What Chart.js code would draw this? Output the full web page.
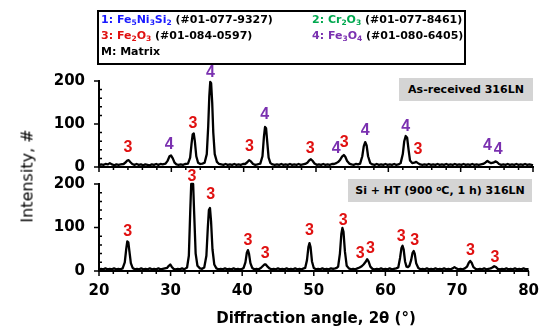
<!DOCTYPE html>
<html><head><meta charset="utf-8">
<script src="https://cdn.jsdelivr.net/npm/chart.js@4.4.1/dist/chart.umd.min.js"></script>
<style>
body{margin:0;background:#fff;}
#wrap{position:relative;width:550px;height:336px;overflow:hidden;font-family:'DejaVu Sans';color:#000;}
canvas{position:absolute;left:0;top:0;}
.legend{position:absolute;left:97px;top:10px;width:369px;height:55px;box-sizing:border-box;border:2px solid #000;font-weight:bold;font-size:11px;}
.legend div{position:absolute;white-space:nowrap;line-height:14px;}
.legend sub{font-size:7.5px;vertical-align:-2px;line-height:0;}
.c1{color:#1a1aff}.c2{color:#00a84f}.c3{color:#e01010}.c4{color:#7a30b0}
.panel{position:absolute;background:#d4d4d4;font-weight:bold;font-size:11px;text-align:center;white-space:nowrap;}
.panel sup{font-size:7.5px;vertical-align:3px;line-height:0;}
#ytitle{position:absolute;left:27px;top:176px;transform:translate(-50%,-50%) rotate(-90deg);font-size:16px;white-space:nowrap;}
#xtitle{position:absolute;left:316px;top:318px;transform:translate(-50%,-50%);font-size:15px;font-weight:bold;white-space:nowrap;}
</style></head>
<body>
<div id="wrap">
<canvas id="top" width="550" height="336"></canvas>
<canvas id="bot" width="550" height="336"></canvas>
<div class="legend">
 <div style="left:2px;top:1px"><span class="c1">1: Fe<sub>5</sub>Ni<sub>3</sub>Si<sub>2</sub></span> (#01-077-9327)</div>
 <div style="left:213px;top:1px"><span class="c2">2: Cr<sub>2</sub>O<sub>3</sub></span> (#01-077-8461)</div>
 <div style="left:2px;top:17px"><span class="c3">3: Fe<sub>2</sub>O<sub>3</sub></span> (#01-084-0597)</div>
 <div style="left:213px;top:17px"><span class="c4">4: Fe<sub>3</sub>O<sub>4</sub></span> (#01-080-6405)</div>
 <div style="left:2px;top:33px">M: Matrix</div>
</div>
<div class="panel" style="left:399px;top:78px;width:134px;height:23px;line-height:23px;">As-received 316LN</div>
<div class="panel" style="left:348px;top:179px;width:184px;height:23px;line-height:23px;">Si + HT (900 <sup>o</sup>C, 1 h) 316LN</div>
<div id="ytitle">Intensity, #</div>
<div id="xtitle">Diffraction angle, 2θ (°)</div>
</div>
<script>
// ---- data ----
const xMajorTicks = [20, 30, 40, 50, 60, 70, 80];
const xMinorTicks = [22, 24, 26, 28, 32, 34, 36, 38, 42, 44, 46, 48, 52, 54, 56, 58, 62, 64, 66, 68, 72, 74, 76, 78];
const yMajorTicks = [0, 100, 200];
const yMinorTicks = [20, 40, 60, 80, 120, 140, 160, 180];

const asReceivedScan = [
 [20.0,4],[20.3,6],[20.6,5],[20.9,7],[21.2,6],[21.5,9],[21.8,6],[22.1,4],[22.4,6],[22.7,5],[23.0,6],[23.4,7],[23.7,11],[23.9,15],
 [24.1,16],[24.35,11],[24.6,7],[24.9,5],[25.2,7],[25.5,5],[25.8,6],[26.1,4],[26.4,6],[26.7,5],[27.0,4],[27.3,6],[27.6,5],[27.9,7],
 [28.2,5],[28.5,7],[28.8,6],[29.2,8],[29.5,15],[29.75,25],[29.95,27],[30.2,20],[30.45,10],[30.7,6],[31.0,5],[31.3,6],[31.6,5],
 [31.9,7],[32.3,8],[32.6,22],[32.8,55],[32.95,76],[33.1,78],[33.25,60],[33.45,25],[33.7,10],[34.0,7],[34.3,8],[34.6,10],[34.9,30],
 [35.1,95],[35.25,165],[35.38,198],[35.5,195],[35.65,150],[35.8,80],[36.0,30],[36.3,12],[36.6,7],[36.9,6],[37.2,5],[37.5,7],
 [37.8,5],[38.1,6],[38.4,5],[38.7,7],[39.0,5],[39.3,6],[39.6,5],[39.9,7],[40.2,7],[40.5,11],[40.75,16],[41.0,13],[41.3,7],
 [41.6,5],[41.9,6],[42.1,7],[42.3,8],[42.6,25],[42.8,70],[42.95,93],[43.1,90],[43.25,60],[43.45,22],[43.7,9],[44.0,6],[44.3,5],
 [44.6,6],[44.9,5],[45.2,7],[45.5,5],[45.8,6],[46.1,5],[46.4,7],[46.7,5],[47.0,6],[47.3,5],[47.6,7],[47.9,5],[48.2,6],[48.5,7],
 [48.8,10],[49.05,15],[49.3,18],[49.55,14],[49.8,8],[50.1,5],[50.4,6],[50.7,5],[51.0,7],[51.3,5],[51.6,6],[51.9,5],[52.2,7],
 [52.5,7],[52.8,9],[53.1,12],[53.35,17],[53.6,24],[53.85,28],[54.05,24],[54.3,14],[54.6,8],[54.9,6],[55.2,5],[55.5,7],[55.8,6],
 [56.1,8],[56.4,25],[56.6,48],[56.8,58],[57.0,50],[57.2,25],[57.5,9],[57.8,6],[58.1,5],[58.4,7],[58.7,5],[59.0,6],[59.3,5],
 [59.6,7],[59.9,5],[60.2,6],[60.5,5],[60.8,7],[61.1,5],[61.4,6],[61.7,9],[62.0,30],[62.2,60],[62.4,72],[62.6,68],[62.8,40],
 [63.0,15],[63.3,9],[63.6,10],[63.85,12],[64.1,9],[64.4,6],[64.7,5],[65.0,6],[65.3,5],[65.6,7],[65.9,5],[66.2,6],[66.5,5],
 [66.8,7],[67.1,5],[67.4,6],[67.7,5],[68.0,7],[68.3,5],[68.6,6],[68.9,5],[69.2,7],[69.5,5],[69.8,6],[70.1,5],[70.4,7],[70.7,5],
 [71.0,6],[71.3,5],[71.6,7],[71.9,5],[72.2,6],[72.5,5],[72.8,6],[73.1,7],[73.4,10],[73.7,14],[73.95,11],[74.2,9],[74.5,10],
 [74.8,13],[75.05,11],[75.3,7],[75.6,5],[75.9,6],[76.2,5],[76.5,7],[76.8,5],[77.1,6],[77.4,5],[77.7,7],[78.0,5],[78.3,6],
 [78.6,5],[78.9,7],[79.2,5],[79.5,6],[79.8,5],[80.0,4]
];
const treatedScan = [
 [20.0,3],[20.3,5],[20.6,4],[20.9,6],[21.2,4],[21.5,5],[21.8,4],[22.1,6],[22.4,4],[22.7,5],[23.0,4],[23.3,6],[23.6,20],[23.8,50],
 [23.95,68],[24.1,66],[24.25,45],[24.45,18],[24.7,7],[25.0,4],[25.3,5],[25.6,4],[25.9,6],[26.2,4],[26.5,5],[26.8,4],[27.1,6],
 [27.4,4],[27.7,5],[28.0,4],[28.3,6],[28.6,4],[28.9,5],[29.2,6],[29.5,7],[29.75,12],[29.95,15],[30.15,10],[30.4,5],[30.7,4],
 [31.0,5],[31.3,4],[31.6,6],[31.9,4],[32.1,6],[32.3,8],[32.55,35],[32.75,140],[32.88,200],[33.15,200],[33.3,130],[33.5,40],
 [33.75,12],[34.1,6],[34.4,5],[34.7,8],[35.0,35],[35.2,100],[35.35,140],[35.5,145],[35.65,115],[35.85,50],[36.1,15],[36.4,6],
 [36.7,4],[37.0,5],[37.3,4],[37.6,6],[37.9,4],[38.2,5],[38.5,4],[38.8,6],[39.1,4],[39.4,5],[39.7,4],[40.0,5],[40.2,7],[40.45,20],
 [40.65,42],[40.8,48],[40.95,40],[41.15,18],[41.4,7],[41.7,4],[42.0,5],[42.3,4],[42.6,7],[42.85,11],[43.1,15],[43.3,15],
 [43.55,10],[43.8,6],[44.1,4],[44.4,5],[44.7,4],[45.0,6],[45.3,4],[45.6,5],[45.9,4],[46.2,6],[46.5,4],[46.8,5],[47.1,4],[47.4,6],
 [47.7,4],[48.0,5],[48.3,4],[48.6,6],[48.8,7],[49.05,25],[49.25,55],[49.4,64],[49.55,55],[49.75,22],[50.0,7],[50.3,4],[50.6,5],
 [50.9,4],[51.2,6],[51.5,4],[51.8,5],[52.1,4],[52.4,6],[52.7,5],[53.0,6],[53.2,7],[53.4,10],[53.65,40],[53.85,85],[54.0,99],
 [54.15,90],[54.35,45],[54.6,12],[54.9,6],[55.2,4],[55.5,5],[55.8,4],[56.1,6],[56.4,8],[56.7,11],[56.95,15],[57.2,20],[57.45,27],
 [57.65,22],[57.9,10],[58.2,5],[58.5,4],[58.8,5],[59.1,4],[59.4,6],[59.7,4],[60.0,5],[60.3,4],[60.6,6],[60.9,4],[61.2,5],
 [61.5,6],[61.8,8],[62.05,30],[62.25,53],[62.4,58],[62.55,50],[62.75,22],[62.95,10],[63.15,9],[63.35,12],[63.6,25],[63.8,42],
 [63.95,46],[64.1,40],[64.3,18],[64.6,7],[64.9,4],[65.2,5],[65.5,4],[65.8,6],[66.1,4],[66.4,5],[66.7,4],[67.0,6],[67.3,4],
 [67.6,5],[67.9,4],[68.2,6],[68.5,4],[68.8,5],[69.1,4],[69.4,6],[69.65,9],[69.9,6],[70.2,4],[70.5,5],[70.8,4],[71.1,6],[71.4,10],
 [71.65,19],[71.85,23],[72.05,19],[72.3,9],[72.6,5],[72.9,4],[73.2,5],[73.5,4],[73.8,6],[74.1,4],[74.4,5],[74.7,6],[74.95,8],
 [75.2,11],[75.45,9],[75.7,5],[76.0,4],[76.3,5],[76.6,4],[76.9,6],[77.2,4],[77.5,5],[77.8,4],[78.1,6],[78.4,4],[78.7,5],[79.0,4],
 [79.3,6],[79.6,4],[80.0,4]
];
// peak labels: [angle, intensity position, phase]
const asReceivedLabels = [
 [24.0,46,'3'],[29.7,53,'4'],[33.0,102,'3'],[35.4,219,'4'],[40.8,47,'3'],[42.9,121,'4'],[49.2,42,'3'],
 [52.8,42,'4'],[53.9,56,'3'],[56.8,84,'4'],[62.4,93,'4'],[64.1,40,'3'],[73.7,49,'4'],[75.2,40,'4']
];
const treatedLabels = [
 [24.0,90,'3'],[33.0,218,'3'],[35.6,175,'3'],[40.8,69,'3'],[43.2,39,'3'],[49.4,92,'3'],[54.1,117,'3'],
 [56.5,39,'3'],[57.9,51,'3'],[62.2,78,'3'],[64.1,69,'3'],[71.9,46,'3'],[75.3,30,'3']
];
const phaseColors = {'3':'#e01010','4':'#7a30b0'};

// ---- drawing ----
const FONT = {family:'DejaVu Sans', weight:'bold', size:15};
const deco = {
  id:'deco',
  afterDraw(chart, args, o){
    const {ctx} = chart; const x = chart.scales.x, y = chart.scales.y;
    ctx.save();
    ctx.strokeStyle = '#000'; ctx.lineWidth = 1.5;
    ctx.beginPath();
    const base = y.getPixelForValue(0);
    xMajorTicks.forEach(v=>{const p=x.getPixelForValue(v); ctx.moveTo(p,base); ctx.lineTo(p,base+5);});
    xMinorTicks.forEach(v=>{const p=x.getPixelForValue(v); ctx.moveTo(p,base); ctx.lineTo(p,base+3);});
    const left = x.getPixelForValue(20);
    yMajorTicks.forEach(v=>{const p=y.getPixelForValue(v); ctx.moveTo(left-5,p); ctx.lineTo(left,p);});
    yMinorTicks.forEach(v=>{const p=y.getPixelForValue(v); ctx.moveTo(left,p); ctx.lineTo(left+3,p);});
    ctx.stroke();
    ctx.font = 'bold 16px "Liberation Sans"';
    ctx.textAlign = 'center'; ctx.textBaseline = 'middle';
    (o.labels||[]).forEach(l=>{
      ctx.fillStyle = phaseColors[l[2]];
      ctx.fillText(l[2], x.getPixelForValue(l[0]), y.getPixelForValue(l[1]));
    });
    ctx.restore();
  }
};

function makeChart(id, scan, labels, pad, xHeight, showX){
  return new Chart(document.getElementById(id), {
    type:'line',
    data:{datasets:[{data:scan.map(p=>({x:p[0],y:p[1]})), borderColor:'#000', borderWidth:2.3, pointRadius:0, tension:0, clip:false, borderJoinStyle:'round'}]},
    options:{
      responsive:false, animation:false, devicePixelRatio:1,
      layout:{padding:pad},
      plugins:{legend:{display:false}, tooltip:{enabled:false}, deco:{labels}},
      scales:{
        x:{type:'linear', min:20, max:80,
           ticks:{display:showX, stepSize:10, font:FONT, color:'#000', padding:11},
           grid:{display:false, drawTicks:false},
           border:{display:true, color:'#000', width:2},
           afterFit(s){s.height = xHeight;}},
        y:{min:0, max:200,
           ticks:{stepSize:100, font:FONT, color:'#000', padding:14},
           grid:{display:false, drawTicks:false},
           border:{display:true, color:'#000', width:2},
           afterFit(s){s.width = 99;}}
      }
    },
    plugins:[deco]
  });
}
makeChart('top', asReceivedScan, asReceivedLabels, {left:0,right:17,top:81,bottom:159}, 10, false);
makeChart('bot', treatedScan, treatedLabels, {left:0,right:17,top:184,bottom:35}, 30, true);
</script>
</body></html>
